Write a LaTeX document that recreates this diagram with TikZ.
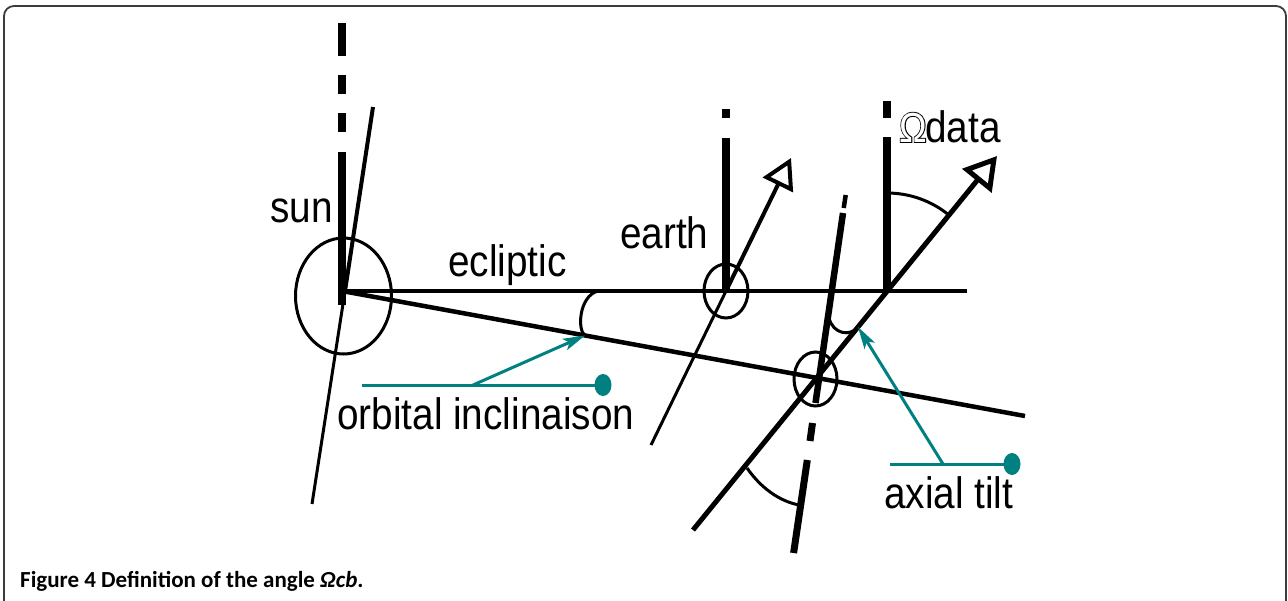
\documentclass[tikz,border=0pt]{standalone}
\usepackage{fontspec}
\usetikzlibrary{arrows.meta}
\newfontfamily\lab[FakeStretch=0.88]{Liberation Sans}
\newfontfamily\labfat[FakeStretch=0.88,FakeBold=4]{Liberation Sans}
\newfontfamily\capfont{Carlito}
\definecolor{teal1}{RGB}{0,128,128}
\definecolor{framegray}{RGB}{60,60,60}
\tikzset{
  thickax/.style={line width=7.5pt},
  mainline/.style={line width=4.5pt},
  thinline/.style={line width=3pt},
  ring/.style={line width=3pt},
  leader/.style={teal1, line width=3pt},
  leadarrow/.style={teal1, line width=3pt, -{Stealth[length=22pt,width=12pt,inset=5pt]}},
  leaddot/.style={fill=teal1, draw=none},
  lbl/.style={inner sep=0pt, anchor=base west, font=\fontsize{44}{50}\selectfont\lab},
}
\begin{document}
\begin{tikzpicture}[x=1pt,y=-1pt]
\useasboundingbox (0,0) rectangle (1288,600);
% frame
\draw[framegray, line width=1.8pt, rounded corners=10pt] (4,602) -- (4,6) -- (1286,6) -- (1286,602);

% key coordinates
\coordinate (sunC) at (342,291);
\coordinate (eclE) at (967,291);
\coordinate (orbE) at (1025,416);
\coordinate (earthC) at (726,291);
\coordinate (dataC) at (887,291);
\coordinate (orbEarth) at (816.7,377.9);

% sun
\draw[ring] (343.5,296) ellipse [x radius=48, y radius=58];
\foreach \a/\b in {23/56, 75/94, 113/132, 152/305}
  \draw[line width=8pt] (342,\a) -- (342,\b);
\draw[line width=4pt] (373,107) -- (345,291);
\draw[thinline] (345,291) -- (312,504);

% ecliptic and orbit
\draw[mainline] (sunC) -- (eclE);
\draw[mainline] (sunC) -- (orbE);

% orbital inclination arc
\draw[thinline] (598,291) .. controls (579,296) and (577,330) .. (585,335.5);

% earth on ecliptic
\draw[ring] (earthC) ellipse [x radius=22, y radius=27];
\draw[thickax] (726,109) -- (726,118);
\draw[thickax] (726,138) -- (earthC);
\coordinate (eaxB) at (651,445);
\coordinate (eaxT) at (791,158);
\draw[thinline] (eaxB) -- (earthC);
\draw[line width=4pt, -{Triangle[open,length=30pt,width=33pt]}] (earthC) -- (eaxT);

% data axis
\draw[thickax] (887,101) -- (887,118);
\draw[thickax] (887,137) -- (dataC);
\coordinate (daB) at (693,530);
\coordinate (daT) at (997,156);
\draw[line width=5pt, -{Triangle[open,length=32pt,width=37pt]}] (daB) -- (daT);
\draw[thinline] (887,193) arc[start angle=-90, end angle=-50.9, radius=98];

% earth on orbit
\draw[ring] (815.5,379) ellipse [x radius=21.5, y radius=27];
\draw[line width=4.5pt] (845.7,195) -- (843.7,208);
\draw[line width=6.5pt] (843,213) -- (815.5,403);
\draw[line width=7pt] (812.5,423) -- (810,441);
\draw[line width=7pt] (807.3,460) -- (793.6,553);

% axial tilt arcs
\draw[thinline] (829,318) .. controls (833,334) and (850,337) .. (858,327);
\draw[thinline] (747,468) .. controls (761,488) and (779,501) .. (799,505);

% leaders
\coordinate (oiL) at (362,385);
\coordinate (oiR) at (603,385);
\coordinate (oiK) at (473,385);
\coordinate (oiT) at (585,335.5);
\draw[leader] (oiL) -- (oiR);
\fill[leaddot] (oiR) ellipse [x radius=8.5, y radius=11];
\draw[leadarrow] (oiK) -- (oiT);

\coordinate (atL) at (890,464);
\coordinate (atR) at (1012,464);
\coordinate (atK) at (943,464);
\coordinate (atT) at (858,327);
\draw[leader] (atL) -- (atR);
\fill[leaddot] (atR) ellipse [x radius=8.5, y radius=11];
\draw[leadarrow] (atK) -- (atT);

% labels
\node[lbl] (tsun) at (270,222) {sun};
\node[lbl] (tecl) at (448,276) {ecliptic};
\node[lbl] (tearth) at (620,248) {earth};
\node[lbl, font=\fontsize{42}{50}\selectfont\labfat] (tomg) at (899,142) {Ω};
\node[lbl, font=\fontsize{42}{50}\selectfont\lab, text=white] (tomg2) at (899,142) {Ω};
\node[lbl] (tdata) at (925,142) {data};
\node[lbl] (torb) at (337,429) {orbital inclinaison};
\node[lbl] (tax) at (884,508) {axial tilt};

% caption
\node[inner sep=0pt, anchor=base west, font=\fontsize{23}{26}\selectfont\capfont\bfseries] (cap) at (20,587)
  {Figure 4 Definition of the angle \textit{Ωcb}.};
\end{tikzpicture}
\end{document}
